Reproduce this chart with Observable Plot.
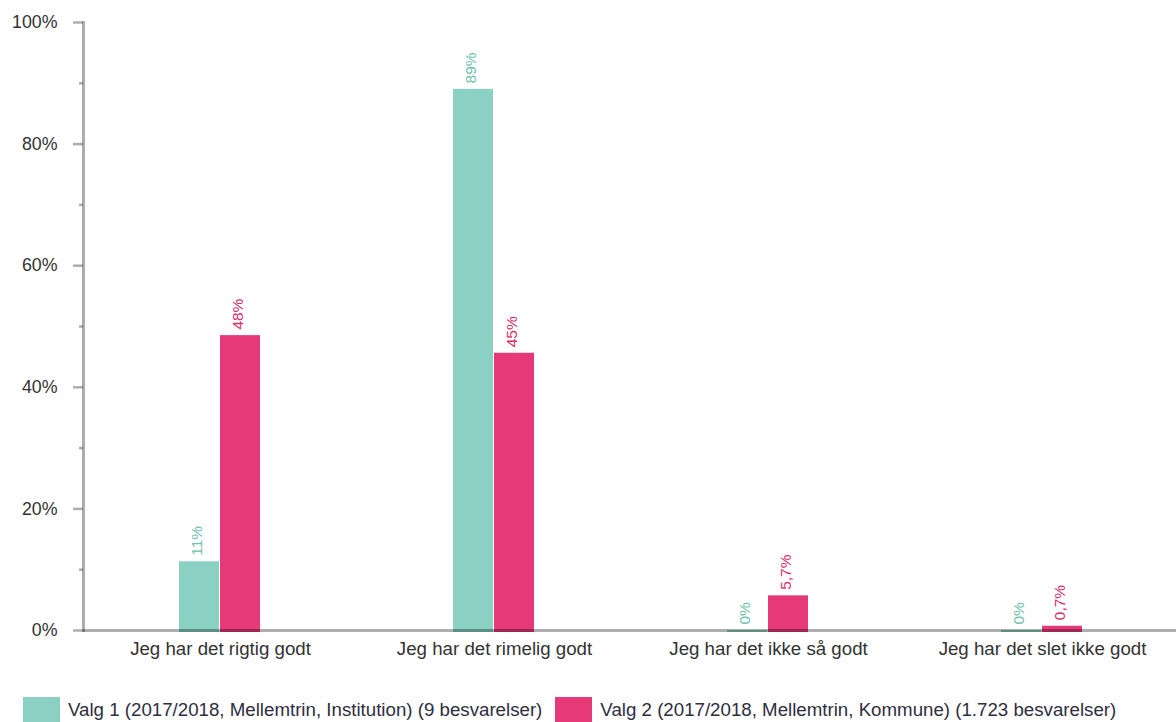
<!DOCTYPE html>
<html>
<head>
<meta charset="utf-8">
<script src="https://cdn.jsdelivr.net/npm/d3@7"></script>
<script src="https://cdn.jsdelivr.net/npm/@observablehq/plot@0.6"></script>
<style>
  html, body { margin: 0; padding: 0; background: #fff; }
  body { width: 1176px; height: 722px; overflow: hidden; font-family: "Liberation Sans", Arial, sans-serif; }
  #chart { width: 1176px; height: 690px; overflow: hidden; }
  #chart svg { max-width: none !important; }
  #legend { display: flex; align-items: flex-start; height: 32px; padding-top: 7px; box-sizing: border-box; color: #2e2e3e; font-size: 18.7px; }
  .item { display: flex; align-items: flex-start; }
  .sw { width: 37px; height: 26px; margin-right: 8px; }
  .lab { line-height: 26px; }
</style>
</head>
<body>
<div id="chart"></div>
<div id="legend"></div>
<script>
const categories = ["Jeg har det rigtig godt", "Jeg har det rimelig godt", "Jeg har det ikke så godt", "Jeg har det slet ikke godt"];
const seriesNames = [
  "Valg 1 (2017/2018, Mellemtrin, Institution) (9 besvarelser)",
  "Valg 2 (2017/2018, Mellemtrin, Kommune) (1.723 besvarelser)"
];
const valg1 = [0.113, 0.89, 0, 0];
const valg2 = [0.485, 0.456, 0.057, 0.007];
const valg1Labels = ["11%", "89%", "0%", "0%"];
const valg2Labels = ["48%", "45%", "5,7%", "0,7%"];
const colors = ["#8ad1c4", "#e63a78"];
const labelColors = ["#6fbfae", "#d5306c"];
const majorTicks = [0, 0.2, 0.4, 0.6, 0.8, 1];
const minorTicks = [0.1, 0.3, 0.5, 0.7, 0.9];

const data = [];
categories.forEach((c, i) => {
  data.push({cat: c, series: seriesNames[0], value: valg1[i], label: valg1Labels[i], lc: labelColors[0]});
  data.push({cat: c, series: seriesNames[1], value: valg2[i], label: valg2Labels[i], lc: labelColors[1]});
});

const axisStroke = "#000";
const axisOpacity = 0.32;
const chart = Plot.plot({
  width: 1180,
  height: 690,
  marginLeft: 81,
  marginRight: 0,
  marginTop: 22,
  marginBottom: 60,
  style: {fontFamily: "Liberation Sans, Arial, sans-serif", background: "#fff", overflow: "visible", maxWidth: "none"},
  fx: {domain: categories, padding: 0, label: null},
  x: {domain: seriesNames, paddingInner: 0.024, paddingOuter: 2.28, axis: null},
  y: {domain: [0, 1], label: null},
  color: {domain: seriesNames, range: colors},
  marks: [
    Plot.barY(data, {fx: "cat", x: "series", y: "value", fill: "series", insetBottom: -2}),
    Plot.ruleY([0], {stroke: axisStroke, strokeOpacity: axisOpacity, strokeWidth: 3}),
    Plot.frame({anchor: "left", facetAnchor: "left", stroke: axisStroke, strokeOpacity: axisOpacity, strokeWidth: 3}),
    Plot.text(data, {fx: "cat", x: "series", y: "value", text: "label", fill: "lc", rotate: -90, textAnchor: "start", lineAnchor: "middle", dy: -6, dx: -2, fontSize: 15.5}),
    Plot.axisY({ticks: majorTicks, tickFormat: d3.format(".0%"), tickSize: 10, tickPadding: 16, stroke: axisStroke, strokeOpacity: axisOpacity, strokeWidth: 2.5, color: "#333", fontSize: 17.8, label: null}),
    Plot.axisY({ticks: minorTicks, tickSize: 4, text: null, stroke: axisStroke, strokeOpacity: axisOpacity, strokeWidth: 2.5, label: null}),
    Plot.axisFx({anchor: "bottom", tickSize: 0, tickPadding: 11, fontSize: 18.7, color: "#333", label: null})
  ]
});
document.getElementById("chart").appendChild(chart);

const legend = document.getElementById("legend");
seriesNames.forEach((name, i) => {
  const it = document.createElement("div");
  it.className = "item";
  it.style.marginLeft = i === 0 ? "23px" : "13px";
  const sw = document.createElement("div");
  sw.className = "sw";
  sw.style.background = colors[i];
  const lab = document.createElement("span");
  lab.className = "lab";
  lab.textContent = name;
  it.appendChild(sw);
  it.appendChild(lab);
  legend.appendChild(it);
});
</script>
</body>
</html>
